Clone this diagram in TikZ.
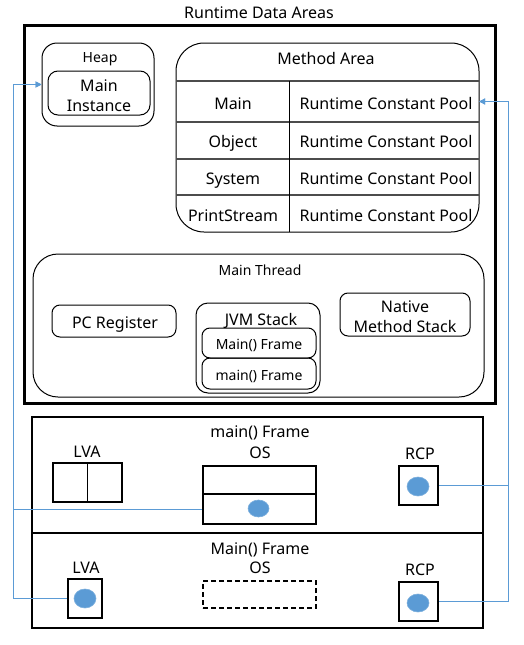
\documentclass[tikz,border=0pt]{standalone}
\usepackage{fontspec}
\setmainfont{Noto Sans}
\usetikzlibrary{arrows.meta,shapes.geometric}
\definecolor{officeblue}{HTML}{5B9BD5}
\begin{document}
\begin{tikzpicture}[x=1pt,y=-1pt,
  txt/.style={anchor=base,inner sep=0pt,font=\fontsize{16}{20}\selectfont},
  stxt/.style={anchor=base,inner sep=0pt,font=\fontsize{14}{17}\selectfont},
  rbox/.style={draw,line width=1pt,rounded corners=#1,inner sep=0pt},
  sbox/.style={draw,line width=2pt,inner sep=0pt},
  cell/.style={inner sep=0pt},
  dot/.style={ellipse,fill=officeblue,draw=officeblue!80!white,line width=0.6pt,inner sep=0pt},
  conn/.style={draw=officeblue,line width=1pt},
  arr/.style={-{Triangle[length=6pt,width=6pt]}},
  rowline/.style={draw=black!70,line width=1.3pt}
]
\useasboundingbox (0,0) rectangle (524,645);

% outer area
\node[txt] (title) at (259,19) {Runtime Data Areas};
\node[draw,line width=3pt,inner sep=0pt,minimum width=471pt,minimum height=378pt] (outer) at (259.5,214) {};

% heap
\node[rbox=15pt,minimum width=112pt,minimum height=83pt] (heap) at (98,84.5) {};
\node[stxt] (heaplbl) at (100,62) {Heap};
\node[rbox=10pt,minimum width=102pt,minimum height=44pt] (mainInst) at (99,93) {};
\node[txt,align=center,font=\fontsize{16}{20}\selectfont] (mainInstLbl) at (99,111) {Main\\Instance};

% method area
\node[rbox=28pt,minimum width=303pt,minimum height=189pt] (method) at (327.5,137.5) {};
\node[txt] (methodlbl) at (326,64) {Method Area};
\draw[rowline] (176,81) -- (479,81);
\draw[rowline] (176,122) -- (479,122);
\draw[rowline] (176,159) -- (479,159);
\draw[rowline] (176,195) -- (479,195);
\draw[line width=1pt] (289,81) -- (289,232);
\node[cell,minimum width=190pt,minimum height=41pt] (cellMain) at (384,101.5) {};
\node[txt] (r1) at (233,109) {Main};
\node[txt] (r2) at (233,147) {Object};
\node[txt] (r3) at (233,184) {System};
\node[txt] (r4) at (233,221) {PrintStream};
\node[txt] (p1) at (386,109) {Runtime Constant Pool};
\node[txt] (p2) at (386,147) {Runtime Constant Pool};
\node[txt] (p3) at (386,184) {Runtime Constant Pool};
\node[txt] (p4) at (386,221) {Runtime Constant Pool};

% main thread
\node[rbox=25pt,minimum width=451pt,minimum height=143pt] (thread) at (258.5,325.5) {};
\node[stxt] (threadlbl) at (260,275) {Main Thread};
\node[rbox=8pt,minimum width=124pt,minimum height=32pt] (pcreg) at (114,321) {};
\node[txt] (pclbl) at (115,328) {PC Register};
\node[rbox=12pt,minimum width=124pt,minimum height=90pt] (jvm) at (258,348) {};
\node[txt] (jvmlbl) at (261,325) {JVM Stack};
\node[rbox=8pt,minimum width=114pt,minimum height=30pt] (jf1) at (259,343) {};
\node[stxt] (jf1lbl) at (259,349) {Main() Frame};
\node[rbox=8pt,minimum width=114pt,minimum height=31pt] (jf2) at (259,373.5) {};
\node[stxt] (jf2lbl) at (259,380) {main() Frame};
\node[rbox=8pt,minimum width=130pt,minimum height=43pt] (native) at (405,314.5) {};
\node[txt,align=center,font=\fontsize{16}{19.5}\selectfont] (nativelbl) at (405,332) {Native\\Method Stack};

% frames
\node[sbox,minimum width=451pt,minimum height=211pt] (frames) at (257.5,522.5) {};
\draw[line width=2pt] (frames.west |- 0,533) -- (frames.east |- 0,533);

% main() frame
\node[txt] (f1lbl) at (260,437) {main() Frame};
\node[txt] (os1lbl) at (260,458) {OS};
\node[txt] (lva1lbl) at (87,457) {LVA};
\node[sbox,minimum width=69pt,minimum height=39pt] (lva1) at (87.5,482.5) {};
\draw[line width=1pt] (lva1.north) -- (lva1.south);
\node[sbox,minimum width=113pt,minimum height=28pt] (osTop) at (259.5,480) {};
\node[sbox,minimum width=113pt,minimum height=30pt] (osBot) at (259.5,509) {};
\node[dot,minimum width=21pt,minimum height=17pt] (osdot) at (258.5,508.5) {};
\node[txt] (rcp1lbl) at (420,459) {RCP};
\node[sbox,minimum width=39pt,minimum height=39pt] (rcp1) at (418.5,485.5) {};
\node[dot,minimum width=22pt,minimum height=19pt] (rcp1dot) at (418,486.5) {};

% Main() frame
\node[txt] (f2lbl) at (260,554) {Main() Frame};
\node[txt] (os2lbl) at (260,573) {OS};
\node[txt] (lva2lbl) at (86,573) {LVA};
\node[sbox,minimum width=34pt,minimum height=39pt] (lva2) at (85,598.5) {};
\node[dot,minimum width=22pt,minimum height=19pt] (lva2dot) at (85,598.5) {};
\node[draw,dash pattern=on 5pt off 3pt,line width=2pt,inner sep=0pt,minimum width=113pt,minimum height=27pt] (os2) at (259.5,594.5) {};
\node[txt] (rcp2lbl) at (420,575) {RCP};
\node[sbox,minimum width=39pt,minimum height=39pt] (rcp2) at (418.5,601.5) {};
\node[dot,minimum width=22pt,minimum height=18pt] (rcp2dot) at (418,603) {};

% connectors
\coordinate (lx) at (13,0);
\coordinate (rx) at (508,0);
\draw[conn,arr] (osBot.west) -- (osBot.west -| lx) |- (heap.west);
\draw[conn,arr] (lva2.west) -- (lva2.west -| lx) |- (heap.west);
\draw[conn,arr] (rcp1.east) -- (rcp1.east -| rx) |- (cellMain.east);
\draw[conn,arr] (rcp2.east) -- (rcp2.east -| rx) |- (cellMain.east);
\end{tikzpicture}
\end{document}
